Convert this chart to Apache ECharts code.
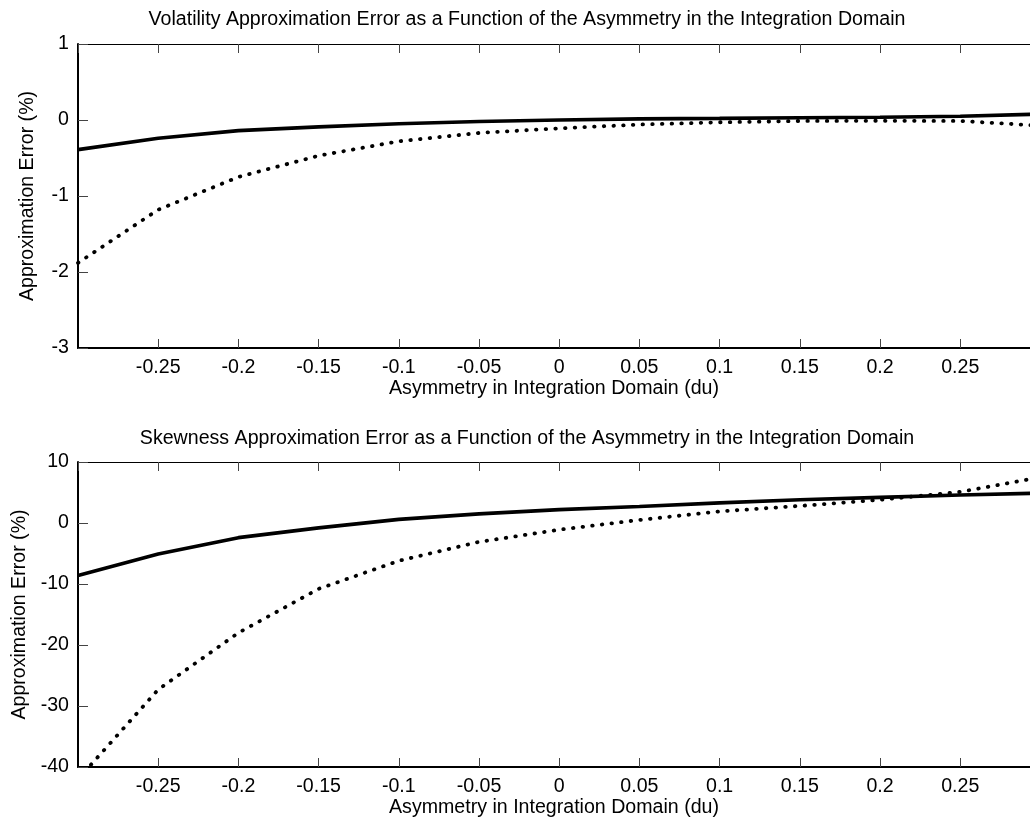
<!DOCTYPE html>
<html>
<head>
<meta charset="utf-8">
<script src="https://cdn.jsdelivr.net/npm/echarts@6/dist/echarts.min.js"></script>
<style>html,body{margin:0;padding:0;background:#fff}#c{width:1030px;height:819px}</style>
</head>
<body>
<div id="c"></div>
<script>
// ---- data ----
const xValues = [-0.3, -0.25, -0.2, -0.15, -0.1, -0.05, 0, 0.05, 0.1, 0.15, 0.2, 0.25, 0.3];
const volSolid = [-0.39, -0.24, -0.14, -0.09, -0.05, -0.02, 0.0, 0.015, 0.022, 0.03, 0.037, 0.05, 0.078];
const volDotted = [-1.88, -1.18, -0.75, -0.47, -0.28, -0.17, -0.11, -0.06, -0.03, -0.013, -0.01, -0.013, -0.075];
const skewSolid = [-8.6, -5.1, -2.4, -0.8, 0.6, 1.5, 2.2, 2.7, 3.3, 3.8, 4.2, 4.6, 4.9];
const skewDotted = [-42, -27.3, -18.0, -10.8, -6.2, -3.1, -1.1, 0.5, 1.9, 2.8, 3.8, 5.1, 7.5];
const titles = [
  'Volatility Approximation Error as a Function of the Asymmetry in the Integration Domain',
  'Skewness Approximation Error as a Function of the Asymmetry in the Integration Domain'
];
const xName = 'Asymmetry in Integration Domain (du)';
const yName = 'Approximation Error (%)';

const FONT = 'Liberation Sans, Arial, Helvetica, sans-serif';
const FS = 19.6;
const XMIN = -0.3, XMAX = 0.2935;
const pairs = (ys) => xValues.map((x, i) => [x, ys[i]]);

function xBottom(gi) {
  return {
    type: 'value', gridIndex: gi, position: 'bottom', min: XMIN, max: XMAX, interval: 0.05,
    name: xName, nameLocation: 'middle', nameGap: 28,
    nameTextStyle: {fontFamily: FONT, fontSize: FS, color: '#000'},
    axisLine: {show: true, onZero: false, lineStyle: {color: '#000', width: 2}},
    axisTick: {show: true, inside: true, length: 9, lineStyle: {color: '#444', width: 1}},
    axisLabel: {fontFamily: FONT, fontSize: FS, color: '#000', margin: 10, showMinLabel: false, showMaxLabel: false,
      formatter: v => String(Math.round(v * 100) / 100)},
    splitLine: {show: false}
  };
}
function xTop(gi) {
  return {
    type: 'value', gridIndex: gi, position: 'top', min: XMIN, max: XMAX, interval: 0.05,
    axisLine: {show: true, onZero: false, lineStyle: {color: '#000', width: 1}},
    axisTick: {show: true, inside: true, length: 9, lineStyle: {color: '#444', width: 1}},
    axisLabel: {show: false}, splitLine: {show: false}
  };
}
function yLeft(gi, min, max, interval, gap) {
  return {
    type: 'value', gridIndex: gi, min: min, max: max, interval: interval,
    name: yName, nameLocation: 'middle', nameGap: gap, nameRotate: 90,
    nameTextStyle: {fontFamily: FONT, fontSize: FS, color: '#000'},
    axisLine: {show: true, onZero: false, lineStyle: {color: '#000', width: 2}},
    axisTick: {show: true, inside: true, length: 10, lineStyle: {color: '#444', width: 1}},
    axisLabel: {fontFamily: FONT, fontSize: FS, color: '#000', margin: 9},
    splitLine: {show: false}
  };
}
function solid(xi, yi, ys) {
  return {type: 'line', xAxisIndex: xi, yAxisIndex: yi, data: pairs(ys), showSymbol: false, clip: true,
    lineStyle: {color: '#000', width: 3.6}};
}
function dotted(xi, yi, ys) {
  return {type: 'line', xAxisIndex: xi, yAxisIndex: yi, data: pairs(ys), showSymbol: false, clip: true,
    lineStyle: {color: '#000', width: 3.8, type: [0.5, 9.2], cap: 'round'}};
}

const chart = echarts.init(document.getElementById('c'), null, {renderer: 'canvas'});
chart.setOption({
  animation: false,
  backgroundColor: '#fff',
  title: [
    {text: titles[0], left: 527, top: 10, textAlign: 'center', padding: 0,
      textStyle: {fontFamily: FONT, fontSize: FS, fontWeight: 'normal', color: '#000'}},
    {text: titles[1], left: 527, top: 429, textAlign: 'center', padding: 0,
      textStyle: {fontFamily: FONT, fontSize: FS, fontWeight: 'normal', color: '#000'}}
  ],
  grid: [
    {left: 78, top: 44, width: 952, height: 304, containLabel: false},
    {left: 78, top: 462, width: 952, height: 305, containLabel: false}
  ],
  xAxis: [xBottom(0), xTop(0), xBottom(1), xTop(1)],
  yAxis: [yLeft(0, -3, 1, 1, 40), yLeft(1, -40, 10, 10, 43)],
  series: [
    solid(0, 0, volSolid), dotted(0, 0, volDotted),
    solid(2, 1, skewSolid), dotted(2, 1, skewDotted)
  ]
});
</script>
</body>
</html>
